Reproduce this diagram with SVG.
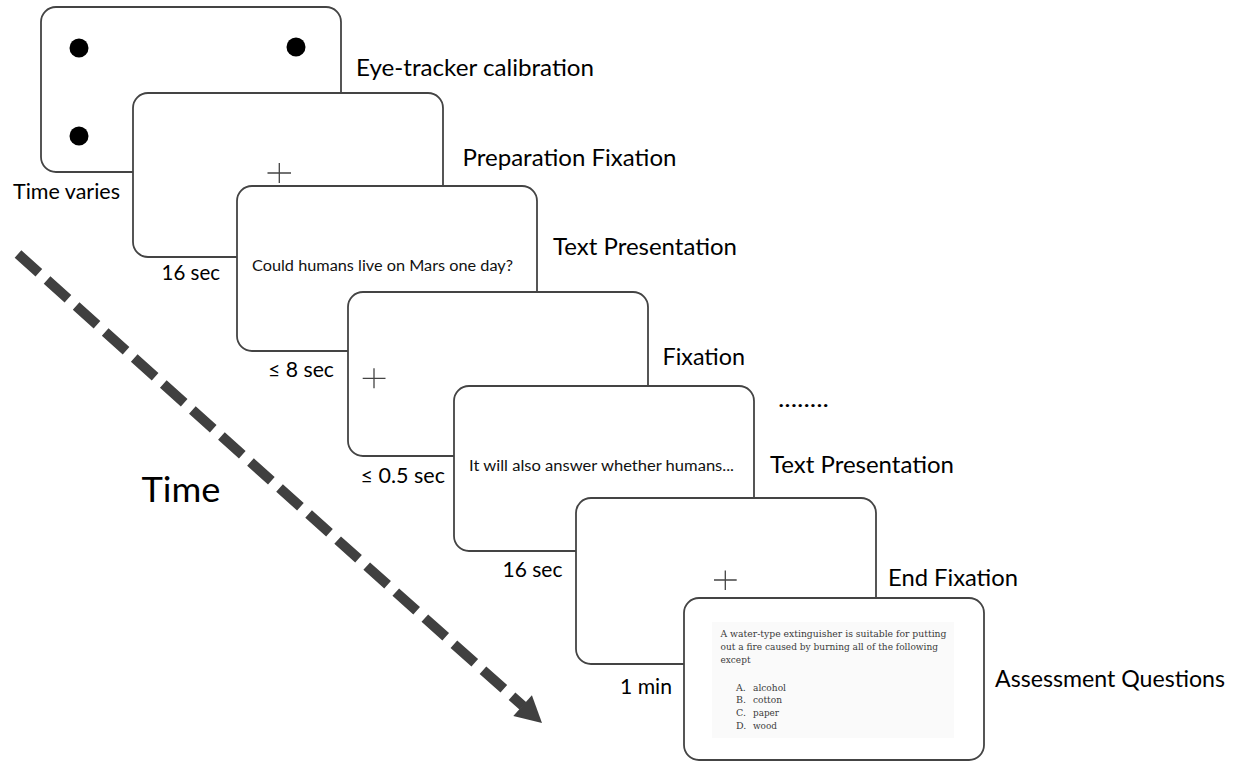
<svg xmlns="http://www.w3.org/2000/svg" width="1245" height="761" viewBox="0 0 1245 761">
<style>
.scr{fill:#fff;stroke:#444;stroke-width:1.8}
.lbl{font-family:Lato,"Liberation Sans",sans-serif;font-size:23px;fill:#000}
.dur{font-family:Lato,"Liberation Sans",sans-serif;font-size:20.5px;fill:#000}
.in{font-family:Lato,"Liberation Sans",sans-serif;font-size:15.5px;fill:#111}
.q{font-family:"DejaVu Serif","Liberation Serif",serif;font-size:9.5px;fill:#3a3a3a}
.cross{stroke:#444;stroke-width:1.3;fill:none}
</style>
<rect width="1245" height="761" fill="#fff"/>
<g id="connectors">
<path d="M18,254 L523,706" stroke="#404040" stroke-width="10" stroke-dasharray="28 11" fill="none"/>
<polygon points="542,723 513.3,716.1 531.9,695.3" fill="#404040"/>
</g>
<g id="screen1">
<rect class="scr" x="41" y="7" width="300" height="165" rx="15"/>
<circle cx="79" cy="48" r="9.5" fill="#000"/>
<circle cx="296" cy="47" r="9.5" fill="#000"/>
<circle cx="79" cy="136" r="9.5" fill="#000"/>
<text class="lbl" x="356" y="76" textLength="238" lengthAdjust="spacingAndGlyphs">Eye-tracker calibration</text>
<text class="dur" x="13" y="199" textLength="107" lengthAdjust="spacingAndGlyphs">Time varies</text>
</g>
<g id="screen2">
<rect class="scr" x="133" y="93" width="310" height="164" rx="15"/>
<path class="cross" d="M267.5,173 H291 M279.3,163 V183"/>
<text class="lbl" x="462.5" y="166" textLength="214" lengthAdjust="spacingAndGlyphs">Preparation Fixation</text>
<text class="dur" x="161.5" y="280" textLength="58.5" lengthAdjust="spacingAndGlyphs">16 sec</text>
</g>
<g id="screen3">
<rect class="scr" x="237" y="186" width="300" height="165" rx="15"/>
<text class="in" x="252" y="271" textLength="261" lengthAdjust="spacingAndGlyphs">Could humans live on Mars one day?</text>
<text class="lbl" x="553" y="255" textLength="184" lengthAdjust="spacingAndGlyphs">Text Presentation</text>
<text class="dur" x="268" y="377" textLength="66" lengthAdjust="spacingAndGlyphs">≤ 8 sec</text>
</g>
<g id="screen4">
<rect class="scr" x="348" y="292" width="300" height="164" rx="15"/>
<path class="cross" d="M362.7,378.3 H385.5 M374,368.3 V388.3"/>
<text class="lbl" x="662.5" y="365" textLength="82.5" lengthAdjust="spacingAndGlyphs">Fixation</text>
<text class="dur" x="360.5" y="483" textLength="84.5" lengthAdjust="spacingAndGlyphs">≤ 0.5 sec</text>
</g>
<g id="screen5">
<rect class="scr" x="454" y="386" width="300" height="165" rx="15"/>
<text class="in" x="469" y="471" textLength="265" lengthAdjust="spacingAndGlyphs">It will also answer whether humans...</text>
<text class="lbl" x="778" y="407" textLength="51" lengthAdjust="spacingAndGlyphs">........</text>
<text class="lbl" x="770" y="473" textLength="184" lengthAdjust="spacingAndGlyphs">Text Presentation</text>
<text class="dur" x="502.5" y="577" textLength="60" lengthAdjust="spacingAndGlyphs">16 sec</text>
</g>
<g id="screen6">
<rect class="scr" x="576" y="498" width="300" height="166" rx="15"/>
<path class="cross" d="M714,580 H736.7 M725.3,570.5 V590"/>
<text class="lbl" x="888" y="586" textLength="130" lengthAdjust="spacingAndGlyphs">End Fixation</text>
<text class="dur" x="620" y="694" textLength="52" lengthAdjust="spacingAndGlyphs">1 min</text>
</g>
<g id="screen7">
<rect class="scr" x="684" y="598" width="300" height="162" rx="15"/>
<rect x="712" y="622" width="242" height="116" fill="#fafafa"/>
<text class="q" x="720.5" y="637" textLength="226" lengthAdjust="spacingAndGlyphs">A water-type extinguisher is suitable for putting</text>
<text class="q" x="720.5" y="650" textLength="217.5" lengthAdjust="spacingAndGlyphs">out a fire caused by burning all of the following</text>
<text class="q" x="720.5" y="663" textLength="30" lengthAdjust="spacingAndGlyphs">except</text>
<text class="q" x="736" y="691">A.</text><text class="q" x="753" y="691" textLength="33" lengthAdjust="spacingAndGlyphs">alcohol</text>
<text class="q" x="736" y="703">B.</text><text class="q" x="753" y="703" textLength="29" lengthAdjust="spacingAndGlyphs">cotton</text>
<text class="q" x="736" y="716">C.</text><text class="q" x="753" y="716" textLength="26" lengthAdjust="spacingAndGlyphs">paper</text>
<text class="q" x="736" y="729">D.</text><text class="q" x="753" y="729" textLength="24" lengthAdjust="spacingAndGlyphs">wood</text>
<text class="lbl" x="995" y="687" textLength="230" lengthAdjust="spacingAndGlyphs">Assessment Questions</text>
</g>
<g id="time-label">
<text x="141.5" y="502" font-family="Lato,'Liberation Sans',sans-serif" font-size="34.5px" textLength="79" lengthAdjust="spacingAndGlyphs">Time</text>
</g>
</svg>
